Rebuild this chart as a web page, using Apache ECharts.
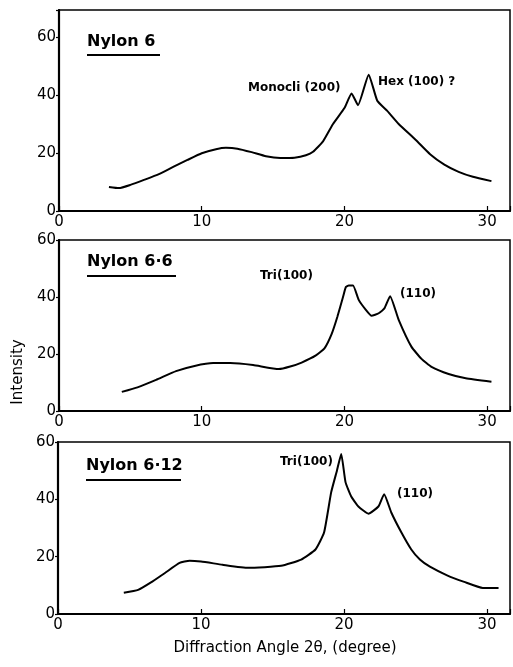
<!DOCTYPE html>
<html><head><meta charset="utf-8">
<script src="https://cdn.jsdelivr.net/npm/echarts@6/dist/echarts.min.js"></script>
<style>html,body{margin:0;padding:0;background:#fff}#c{width:513px;height:667px}</style>
</head><body><div id="c"></div>
<script>
// ---- data ----
const xTicks = [0, 10, 20, 30];
const yTicks = [0, 20, 40, 60];
const panelNames = ['Nylon 6', 'Nylon 6·6', 'Nylon 6·12'];

const nylon6X = [3.5, 4.2, 5, 6, 7, 8, 9, 10, 11, 11.7, 12.5, 13.5, 14.5, 15.5, 16.5, 17.3, 17.8, 18.5, 19.2, 20, 20.5, 20.95, 21.7, 22.3, 23, 23.8, 25, 26, 27, 28, 29, 30.3];
const nylon6Y = [8.3, 7.9, 9, 10.8, 12.7, 15.2, 17.6, 19.9, 21.3, 21.8, 21.5, 20.3, 18.9, 18.3, 18.4, 19.2, 20.4, 24, 30, 35.5, 40.5, 36.5, 47, 38, 34.5, 30, 24.5, 19.6, 16, 13.5, 11.8, 10.3];

const nylon66X = [4.4, 5.5, 6.8, 8.2, 9.5, 10.8, 12, 13.6, 15.4, 16.2, 17, 18, 18.6, 19.1, 19.5, 19.9, 20.1, 20.3, 20.6, 21, 21.5, 21.9, 22.4, 22.8, 23.2, 23.8, 24.7, 25.4, 26.1, 27.3, 28.5, 30.3];
const nylon66Y = [6.7, 8.3, 10.9, 14, 15.8, 16.8, 16.8, 16.1, 14.7, 15.6, 17, 19.5, 22, 27, 33, 40, 43.5, 44, 44, 39, 35.5, 33.4, 34.3, 36, 40.3, 32, 22.5, 18.3, 15.5, 13, 11.5, 10.3];

const nylon612X = [4.6, 5.6, 6.5, 7.5, 8.5, 9.2, 10, 11.5, 13.3, 15.6, 17, 18, 18.6, 19.1, 19.5, 19.8, 20.1, 20.5, 21, 21.7, 22.4, 22.8, 23.3, 24, 24.7, 25.3, 26, 27.2, 28.4, 29.7, 30.8];
const nylon612Y = [7.4, 8.4, 11, 14.4, 17.8, 18.6, 18.3, 17.2, 16.1, 16.8, 19, 22.5, 28.4, 42.5, 50, 55.8, 46, 41, 37.5, 35, 37.5, 41.8, 35.4, 28.5, 22.5, 19, 16.5, 13.5, 11.2, 9.1, 9.1];

const annotations = [
  ['Monocli (200)', 'Hex (100) ?'],
  ['Tri(100)', '(110)'],
  ['Tri(100)', '(110)']
];

// ---- chart ----
const seriesXs = [nylon6X, nylon66X, nylon612X];
const seriesYs = [nylon6Y, nylon66Y, nylon612Y];
const yMaxes = [69.3, 60, 60];
const grids = [
  {left: 59, top: 10, right: 1, height: 201},
  {left: 59, top: 240, right: 1, height: 171},
  {left: 58, top: 442, right: 1, height: 172}
];
const font = '"DejaVu Sans", sans-serif';
const chart = echarts.init(document.getElementById('c'), null, {renderer: 'canvas'});

const option = {
  animation: false,
  backgroundColor: '#fff',
  grid: grids.map(g => Object.assign({show: true, borderColor: '#000', borderWidth: 1.5, backgroundColor: 'transparent'}, g)),
  xAxis: grids.map((g, i) => ({
    type: 'value', gridIndex: i, min: 0, max: 31.6, interval: 10,
    axisLine: {show: true, lineStyle: {color: '#000', width: 2.2}},
    axisTick: {show: true, inside: true, length: 5, lineStyle: {color: '#000', width: 1.2}},
    splitLine: {show: false},
    axisLabel: {color: '#000', fontFamily: font, fontSize: 15, margin: 4,
      formatter: v => xTicks.includes(v) ? String(v) : ''}
  })),
  yAxis: grids.map((g, i) => ({
    type: 'value', gridIndex: i, min: 0, max: yMaxes[i], interval: 20,
    axisLine: {show: true, lineStyle: {color: '#000', width: 2.2}},
    axisTick: {show: true, inside: false, length: 3, lineStyle: {color: '#000', width: 1.2}},
    splitLine: {show: false},
    axisLabel: {color: '#000', fontFamily: font, fontSize: 15, margin: 3,
      formatter: v => yTicks.includes(v) ? String(v) : ''}
  })),
  series: seriesXs.map((xs, i) => ({
    type: 'line', xAxisIndex: i, yAxisIndex: i,
    data: xs.map((x, k) => [x, seriesYs[i][k]]),
    showSymbol: false, smooth: 0.15,
    lineStyle: {color: '#000', width: 2}
  })),
  graphic: [
    // panel titles + underlines
    {type: 'text', left: 87, top: 34, style: {text: panelNames[0], font: 'bold 16px ' + font, fill: '#000'}},
    {type: 'line', shape: {x1: 87, y1: 55, x2: 160, y2: 55}, style: {stroke: '#000', lineWidth: 2}},
    {type: 'text', left: 87, top: 254, style: {text: panelNames[1], font: 'bold 16px ' + font, fill: '#000'}},
    {type: 'line', shape: {x1: 87, y1: 276, x2: 176, y2: 276}, style: {stroke: '#000', lineWidth: 2}},
    {type: 'text', left: 86, top: 458, style: {text: panelNames[2], font: 'bold 16px ' + font, fill: '#000'}},
    {type: 'line', shape: {x1: 86, y1: 480, x2: 181, y2: 480}, style: {stroke: '#000', lineWidth: 2}},
    // peak annotations
    {type: 'text', left: 248, top: 82, style: {text: annotations[0][0], font: 'bold 12px ' + font, fill: '#000'}},
    {type: 'text', left: 378, top: 76, style: {text: annotations[0][1], font: 'bold 12px ' + font, fill: '#000'}},
    {type: 'text', left: 260, top: 270, style: {text: annotations[1][0], font: 'bold 12px ' + font, fill: '#000'}},
    {type: 'text', left: 400, top: 288, style: {text: annotations[1][1], font: 'bold 12px ' + font, fill: '#000'}},
    {type: 'text', left: 280, top: 456, style: {text: annotations[2][0], font: 'bold 12px ' + font, fill: '#000'}},
    {type: 'text', left: 397, top: 488, style: {text: annotations[2][1], font: 'bold 12px ' + font, fill: '#000'}},
    // axis titles
    {type: 'text', x: 18, y: 372, rotation: Math.PI / 2,
      style: {text: 'Intensity', font: '15px ' + font, fill: '#000', align: 'center', verticalAlign: 'middle'}},
    {type: 'text', x: 285, y: 648,
      style: {text: 'Diffraction Angle 2θ, (degree)', font: '15px ' + font, fill: '#000', align: 'center', verticalAlign: 'middle'}}
  ]
};
chart.setOption(option);
</script></body></html>
